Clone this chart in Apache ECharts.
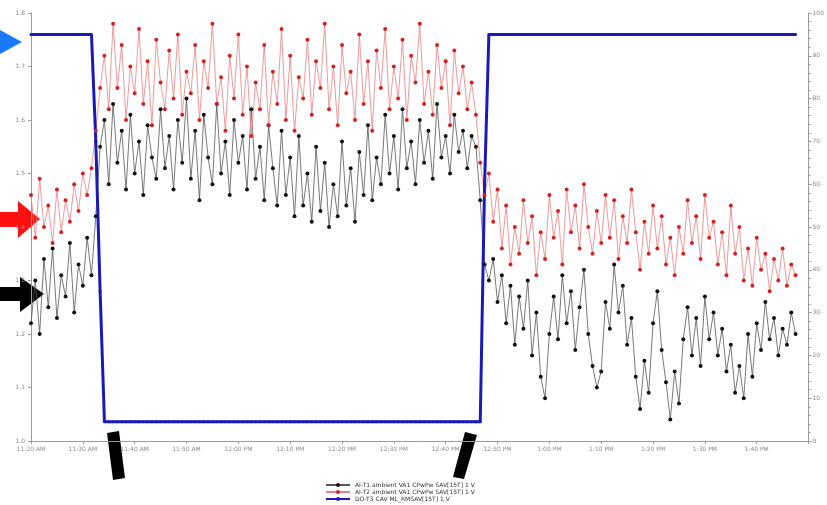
<!DOCTYPE html>
<html><head><meta charset="utf-8">
<script src="https://cdn.jsdelivr.net/npm/echarts@6/dist/echarts.min.js"></script>
<style>html,body{margin:0;padding:0;background:#fff}#c{width:827px;height:505px}</style>
</head><body><div id="c"></div>
<script>
// x tick labels (one per axis unit, 12 samples per unit)
const xTickLabels = ["11:20 AM","11:30 AM","11:40 AM","11:50 AM","12:00 PM","12:10 PM","12:20 PM","12:30 PM","12:40 PM","12:50 PM","1:00 PM","1:10 PM","1:20 PM","1:30 PM","1:40 PM",""];
const samplesPerUnit = 12;
const seriesNames = ["AI-T1 ambient VA1 CPwPw SAV[15T] 1 V","AI-T2 ambient VA1 CPwPw SAV[15T] 1 V","DO-T3 CAV ML_RMSAV[15T] 1 V"];
const blackValues = [
1.22,1.30,1.20,1.34,1.25,1.36,1.23,1.31,1.27,1.37,1.24,1.33,1.29,1.38,
1.31,1.42,1.55,
1.60,1.48,1.63,1.52,1.58,1.47,1.61,1.50,1.56,1.46,1.59,1.53,1.49,1.62,1.51,1.57,1.47,1.60,1.52,1.64,1.49,1.58,1.45,1.61,1.53,1.48,1.63,1.50,1.56,1.46,1.60,1.52,1.57,1.47,1.62,1.49,1.55,1.45,1.59,1.51,1.44,1.58,1.46,1.53,1.42,1.57,1.44,1.50,1.41,1.55,1.43,1.52,1.40,1.48,1.42,1.56,1.44,1.51,1.41,1.54,1.46,1.59,1.45,1.53,1.48,1.61,1.50,1.57,1.47,1.62,1.51,1.56,1.48,1.60,1.52,1.58,1.49,1.63,1.53,1.57,1.50,1.61,1.54,1.58,1.51,1.57,1.55,
1.45,1.33,
1.30,1.34,1.26,1.31,1.22,1.29,1.18,1.27,1.21,1.30,1.16,1.24,1.12,1.08,1.20,1.27,1.19,1.31,1.22,1.28,1.17,1.25,1.32,1.20,1.14,1.10,1.13,1.26,1.21,1.33,1.24,1.29,1.18,1.23,1.12,1.06,1.15,1.09,1.22,1.28,1.17,1.11,1.04,1.13,1.07,1.19,1.25,1.16,1.23,1.14,1.27,1.19,1.24,1.16,1.21,1.13,1.18,1.09,1.14,1.08,1.20,1.12,1.22,1.17,1.26,1.19,1.23,1.16,1.21,1.18,1.24,1.20
];
const redValues = [
1.46,1.38,1.49,1.40,1.44,1.37,1.47,1.39,1.45,1.41,1.48,1.43,1.50,1.46,
1.51,1.58,1.66,
1.72,1.62,1.78,1.66,1.74,1.60,1.70,1.65,1.77,1.63,1.71,1.59,1.75,1.67,1.62,1.73,1.64,1.76,1.61,1.69,1.65,1.74,1.60,1.71,1.66,1.78,1.63,1.68,1.58,1.72,1.64,1.76,1.61,1.70,1.57,1.67,1.62,1.74,1.59,1.69,1.63,1.77,1.60,1.72,1.58,1.68,1.64,1.75,1.61,1.71,1.66,1.78,1.62,1.70,1.59,1.74,1.65,1.69,1.60,1.76,1.63,1.71,1.58,1.73,1.66,1.77,1.62,1.70,1.64,1.75,1.60,1.72,1.67,1.78,1.63,1.69,1.61,1.74,1.66,1.71,1.59,1.73,1.65,1.70,1.62,1.67,1.61,
1.52,1.46,
1.50,1.41,1.47,1.36,1.44,1.33,1.40,1.35,1.45,1.37,1.42,1.31,1.39,1.34,1.46,1.38,1.43,1.33,1.47,1.39,1.44,1.36,1.48,1.40,1.35,1.43,1.37,1.46,1.38,1.45,1.34,1.42,1.37,1.47,1.39,1.32,1.41,1.35,1.44,1.36,1.42,1.33,1.38,1.31,1.40,1.35,1.45,1.37,1.42,1.34,1.46,1.38,1.41,1.33,1.39,1.31,1.44,1.35,1.40,1.30,1.36,1.29,1.38,1.32,1.35,1.28,1.34,1.30,1.36,1.29,1.33,1.31
];
const blueValues = [
95,95,95,95,95,95,95,95,95,95,
95,95,95,95,95,
70,35,
4.5,4.5,4.5,4.5,4.5,4.5,4.5,4.5,4.5,4.5,
4.5,4.5,4.5,4.5,4.5,4.5,4.5,4.5,4.5,4.5,
4.5,4.5,4.5,4.5,4.5,4.5,4.5,4.5,4.5,4.5,
4.5,4.5,4.5,4.5,4.5,4.5,4.5,4.5,4.5,4.5,
4.5,4.5,4.5,4.5,4.5,4.5,4.5,4.5,4.5,4.5,
4.5,4.5,4.5,4.5,4.5,4.5,4.5,4.5,4.5,4.5,
4.5,4.5,4.5,4.5,4.5,4.5,4.5,4.5,4.5,4.5,
4.5,4.5,4.5,4.5,4.5,4.5,4.5,4.5,4.5,4.5,
4.5,4.5,4.5,4.5,4.5,4.5,4.5,4.5,
60,
95,95,95,95,95,95,95,95,95,95,
95,95,95,95,95,95,95,95,95,95,
95,95,95,95,95,95,95,95,95,95,
95,95,95,95,95,95,95,95,95,95,
95,95,95,95,95,95,95,95,95,95,
95,95,95,95,95,95,95,95,95,95,
95,95,95,95,95,95,95,95,95,95,
95,95
];

const pairs = arr => arr.map((v,i)=>[i/samplesPerUnit, v]);
const axisCol = '#9a9a9a';
const lab = {color:'#8a8a8a', fontSize:6, fontFamily:'DejaVu Sans'};

const chart = echarts.init(document.getElementById('c'));
chart.setOption({
  animation:false,
  backgroundColor:'#fff',
  grid:{left:31, right:14, top:13, bottom:64},
  xAxis:{type:'value', min:0, max:15, interval:1,
    axisLine:{lineStyle:{color:axisCol}}, axisTick:{length:3,lineStyle:{color:axisCol}},
    splitLine:{show:false},
    axisLabel:Object.assign({margin:5, formatter:v=>xTickLabels[Math.round(v)]||''}, lab)},
  yAxis:[
    {type:'value', min:1.0, max:1.8, interval:0.1,
     axisLine:{show:true,lineStyle:{color:axisCol}}, axisTick:{show:true,length:3,lineStyle:{color:axisCol}},
     splitLine:{show:false},
     axisLabel:Object.assign({margin:6, formatter:v=>v.toFixed(1)}, lab)},
    {type:'value', min:0, max:100, interval:10, position:'right',
     axisLine:{show:true,lineStyle:{color:axisCol}}, axisTick:{show:true,length:3,lineStyle:{color:axisCol}},
     minorTick:{show:true,length:2,lineStyle:{color:axisCol}},
     splitLine:{show:false},
     axisLabel:Object.assign({margin:4}, lab)}
  ],
  legend:{orient:'vertical', left:325, top:482, padding:0, itemGap:1, itemWidth:24, itemHeight:5,
    textStyle:{fontSize:6, color:'#333', fontFamily:'DejaVu Sans', padding:0, lineHeight:6},
    data:seriesNames},
  series:[
    {name:seriesNames[0], type:'line', yAxisIndex:0, data:pairs(blackValues),
     symbol:'circle', symbolSize:4, lineStyle:{color:'#555', width:0.8},
     itemStyle:{color:'#111'}},
    {name:seriesNames[1], type:'line', yAxisIndex:0, data:pairs(redValues),
     symbol:'circle', symbolSize:4, lineStyle:{color:'#e88080', width:0.8},
     itemStyle:{color:'#d42020'}},
    {name:seriesNames[2], type:'line', yAxisIndex:1, data:pairs(blueValues),
     symbol:'circle', symbolSize:3, showAllSymbol:false,
     lineStyle:{color:'#1a1ab8', width:3},
     itemStyle:{color:'#1a1ab8'}}
  ],
  graphic:[
    {type:'polygon', shape:{points:[[0,30],[22,42],[0,54]]}, style:{fill:'#1a78ff'}},
    {type:'polygon', shape:{points:[[0,212],[18,212],[18,201],[40,219],[18,238],[18,227],[0,227]]}, style:{fill:'#ff1010'}},
    {type:'polygon', shape:{points:[[0,287],[20,287],[20,277],[44,294],[20,312],[20,301],[0,301]]}, style:{fill:'#000'}},
    {type:'polygon', shape:{points:[[107,433],[119,431],[125,478],[113,480]]}, style:{fill:'#000'}},
    {type:'polygon', shape:{points:[[465,432],[477,435],[464,479],[453,477]]}, style:{fill:'#000'}}
  ]
});
</script></body></html>
